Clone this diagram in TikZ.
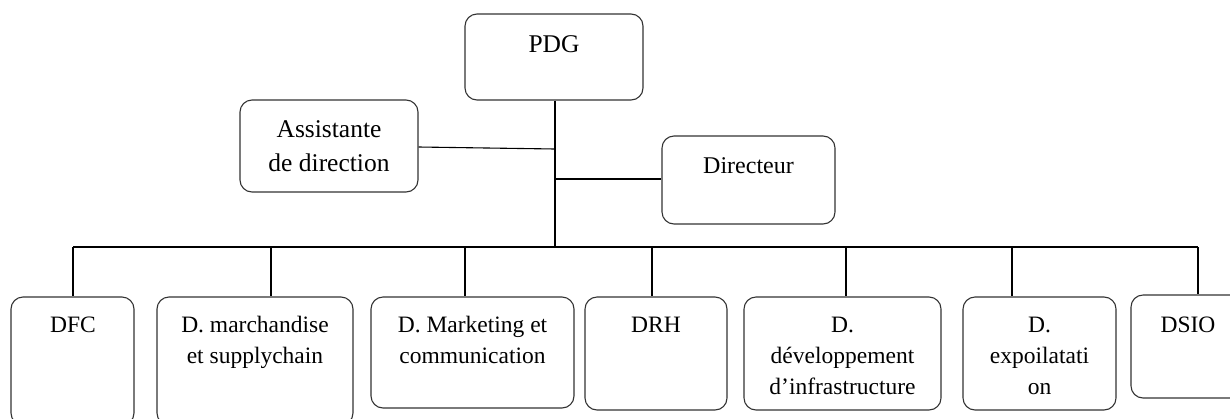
\documentclass[tikz,border=0pt]{standalone}
\usepackage{fontspec}
\setmainfont{Liberation Serif}
\begin{document}
\begin{tikzpicture}[x=1pt,y=-1pt,
  box/.style={draw=black!80, line width=1.1pt, rounded corners=12pt, inner sep=0pt},
  txt/.style={anchor=base, align=center, inner sep=0pt, font=\fontsize{23.5}{31}\selectfont},
  txtbig/.style={anchor=base, align=center, inner sep=0pt, font=\fontsize{25.5}{34}\selectfont},
  link/.style={line width=1.1pt, black}]
\useasboundingbox (0,0) rectangle (1230,418);
\clip (0,0) rectangle (1230,418);
% boxes
\node[box, minimum width=178pt, minimum height=86pt] (pdg) at (554,57) {};
\node[box, minimum width=178pt, minimum height=92pt] (asst) at (329,146) {};
\node[box, minimum width=173pt, minimum height=88pt] (dir) at (748.5,180) {};
\node[box, minimum width=123pt, minimum height=128pt] (dfc) at (72.5,361) {};
\node[box, minimum width=196pt, minimum height=128pt] (dms) at (255,361) {};
\node[box, minimum width=203pt, minimum height=111pt] (dmc) at (472.5,352.5) {};
\node[box, minimum width=142pt, minimum height=113pt] (drh) at (656,353.5) {};
\node[box, minimum width=197pt, minimum height=113pt] (ddi) at (842.5,353.5) {};
\node[box, minimum width=153pt, minimum height=113pt] (dex) at (1039.5,353.5) {};
\node[box, minimum width=114pt, minimum height=103pt] (dsio) at (1188,346.5) {};
% texts (anchor=base is the baseline of the last line)
\node[txtbig] (tpdg) at (554,52) {PDG};
\node[txtbig] (tasst) at (329,171) {Assistante\\de direction};
\node[txt, font=\fontsize{24}{31}\selectfont] (tdir) at (748.5,173) {Directeur};
\node[txt] (tdfc) at (73,332) {DFC};
\node[txt] (tdms) at (255,363) {D. marchandise\\et supplychain};
\node[txt] (tdmc) at (472.5,363) {D. Marketing et\\communication};
\node[txt] (tdrh) at (656,332) {DRH};
\node[txt] (tddi) at (842.5,394) {D.\\développement\\d’infrastructure};
\node[txt] (tdex) at (1039.5,394) {D.\\expoilatati\\on};
\node[txt] (tdsio) at (1188,332) {DSIO};
% connectors
\coordinate (trunk) at (555,247);
\coordinate (ja) at (555,149);
\coordinate (jd) at (555,179);
\draw[link] (pdg.south -| trunk) -- (trunk);
\draw[link] (asst.east |- 0,147) -- (ja);
\draw[link] (jd) -- (dir.west |- jd);
\coordinate (b1) at (73,247);
\coordinate (b2) at (271,247);
\coordinate (b3) at (465,247);
\coordinate (b4) at (652,247);
\coordinate (b5) at (846,247);
\coordinate (b6) at (1012,247);
\coordinate (b7) at (1198,247);
\draw[link] (b1) -- (b7);
\draw[link] (b1) -- (b1 |- dfc.north);
\draw[link] (b2) -- (b2 |- dms.north);
\draw[link] (b3) -- (b3 |- dmc.north);
\draw[link] (b4) -- (b4 |- drh.north);
\draw[link] (b5) -- (b5 |- ddi.north);
\draw[link] (b6) -- (b6 |- dex.north);
\draw[link] (b7) -- (b7 |- dsio.north);
\end{tikzpicture}
\end{document}
